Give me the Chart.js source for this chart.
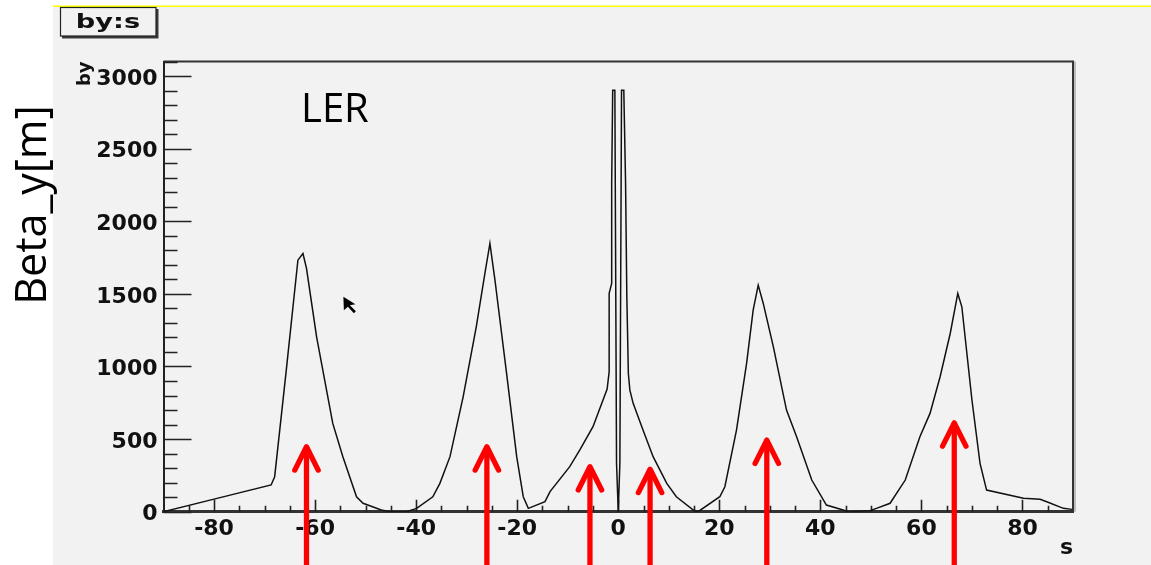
<!DOCTYPE html>
<html>
<head>
<meta charset="utf-8">
<title>by:s</title>
<script src="https://cdn.jsdelivr.net/npm/chart.js@4/dist/chart.umd.min.js"></script>
<style>
  html, body { margin: 0; padding: 0; background: #ffffff; overflow: hidden; }
  canvas { display: block; }
</style>
</head>
<body>
<canvas id="c" width="1151" height="565"></canvas>
<script>
// Vertical beta function by [m] against position s [m] around the interaction region
const sPos = [
  -90.0, -80.2, -68.7, -68.0, -65.7, -63.4, -62.4, -61.7, -59.7, -56.5, -54.5, -51.8, -50.5, -46.9, -45.2,
  -41.9, -39.9, -36.7, -35.3, -33.3, -30.7, -28.1, -26.4, -25.4, -24.4, -22.1, -20.1, -18.8, -17.8,
  -14.5, -13.5, -9.6, -7.6, -5.0, -2.2,
  -1.8, -1.8, -1.3, -1.3, -1.1, -0.67, -0.34, 0.0, 0.32, 0.65, 1.1, 1.45, 1.7, 2.0, 2.3,
  2.95, 4.9, 6.9, 9.6, 11.5, 14.8, 15.8,
  20.1, 21.1, 23.4, 25.4, 26.7, 27.7, 28.7, 30.7, 33.3, 35.3, 38.3, 41.2, 44.5, 45.5,
  49.8, 51.1, 53.8, 56.8, 59.7, 61.7, 63.7, 65.7, 67.2, 68.0, 70.0, 71.6, 72.9,
  80.2, 83.5, 84.8, 88.1, 89.8
];
const betaY = [
  0, 85, 184, 241, 975, 1732, 1778, 1675, 1204, 608, 379, 103, 58, 12, 0,
  0, 23, 103, 195, 379, 791, 1273, 1640, 1847, 1594, 952, 379, 103, 23,
  69, 138, 310, 425, 585, 845,
  963, 1503, 1572, 2260, 2902, 2902, 333, 0, 333, 2902, 2902, 2260, 1480, 952, 837,
  746, 562, 379, 195, 103, 12, 0,
  103, 172, 562, 1021, 1388, 1560, 1434, 1135, 700, 516, 218, 46, 12, 0,
  7, 23, 58, 218, 516, 677, 929, 1227, 1503, 1411, 769, 333, 149,
  92, 85, 69, 23, 16
];

// Axis ticks
const xTickValues = [-80, -60, -40, -20, 0, 20, 40, 60, 80];
const yTickValues = [0, 500, 1000, 1500, 2000, 2500, 3000];
const xMinorStep = 5;
const yMinorStep = 100;

// Marked positions along s (arrow foot below the axis, tip at the given by)
const arrowS   = [-61.7, -26.0, -5.6, 6.3, 29.4, 66.5];
const arrowTip = [447, 447, 310, 292, 493, 612];

// Labels
const histTitle = 'by:s';
const ringName = 'LER';
const sideLabel = 'Beta_y[m]';
const xTitle = 's';
const yTitle = 'by';
const pointerAt = [-54.4, 1480];

const decor = {
  id: 'decor',
  beforeDraw(chart) {
    const ctx = chart.ctx;
    ctx.save();
    ctx.fillStyle = '#ffffff';
    ctx.fillRect(0, 0, chart.width, chart.height);
    ctx.fillStyle = '#f2f2f2';
    ctx.fillRect(53, 6, chart.width - 53, chart.height - 6);
    ctx.strokeStyle = '#ffff00';
    ctx.lineWidth = 1.6;
    ctx.beginPath();
    ctx.moveTo(53, 6.3);
    ctx.lineTo(chart.width, 6.3);
    ctx.stroke();

    // title box with drop shadow
    ctx.fillStyle = '#3a3a3a';
    ctx.fillRect(62, 9, 96.5, 29.5);
    ctx.fillStyle = '#f2f2f2';
    ctx.fillRect(60, 7, 96, 29);
    ctx.strokeStyle = '#222';
    ctx.lineWidth = 1.2;
    ctx.strokeRect(60.5, 7.5, 95.5, 28.5);
    ctx.fillStyle = '#111';
    ctx.font = 'bold 20px "DejaVu Sans"';
    ctx.textAlign = 'center';
    ctx.textBaseline = 'alphabetic';
    ctx.translate(108, 28);
    ctx.scale(1.36, 1);
    ctx.fillText(histTitle, 0, 0);
    ctx.restore();
  },
  beforeDatasetsDraw(chart) {
    const ctx = chart.ctx;
    const a = chart.chartArea;
    const xs = chart.scales.x, ys = chart.scales.y;
    ctx.save();
    // frame top and right
    ctx.strokeStyle = '#999';
    ctx.lineWidth = 1.2;
    ctx.beginPath();
    ctx.moveTo(a.right + 2, a.top);
    ctx.lineTo(a.right + 2, a.bottom);
    ctx.stroke();
    ctx.strokeStyle = '#333';
    ctx.lineWidth = 2;
    ctx.beginPath();
    ctx.moveTo(a.left, a.top);
    ctx.lineTo(a.right, a.top);
    ctx.lineTo(a.right, a.bottom);
    ctx.stroke();

    // inward ticks
    ctx.strokeStyle = '#222';
    ctx.lineWidth = 1.6;
    ctx.beginPath();
    for (let v = ys.min; v <= ys.max; v += yMinorStep) {
      const y = Math.round(ys.getPixelForValue(v)) + 0.5;
      const len = yTickValues.includes(v) ? 28 : 14;
      ctx.moveTo(a.left, y);
      ctx.lineTo(a.left + len, y);
    }
    for (let v = xs.min + xMinorStep; v < xs.max; v += xMinorStep) {
      const x = Math.round(xs.getPixelForValue(v)) + 0.5;
      const len = xTickValues.includes(v) ? 12 : 6;
      ctx.moveTo(x, a.bottom);
      ctx.lineTo(x, a.bottom - len);
    }
    ctx.stroke();
    ctx.restore();
  },
  afterDraw(chart) {
    const ctx = chart.ctx;
    const xs = chart.scales.x, ys = chart.scales.y;
    ctx.save();

    // ring name inside the frame
    ctx.fillStyle = '#000';
    ctx.font = '40px "Open Sans"';
    ctx.textAlign = 'left';
    ctx.textBaseline = 'alphabetic';
    ctx.fillText(ringName, 301, 122);

    // side label
    ctx.save();
    ctx.translate(45.5, 205);
    ctx.rotate(-Math.PI / 2);
    ctx.font = '43px "Open Sans"';
    ctx.textAlign = 'center';
    ctx.fillText(sideLabel, 0, 0);
    ctx.restore();

    // mouse pointer
    const px = xs.getPixelForValue(pointerAt[0]);
    const py = ys.getPixelForValue(pointerAt[1]);
    ctx.save();
    ctx.translate(px, py);
    ctx.fillStyle = '#000';
    ctx.beginPath();
    ctx.moveTo(0, 0);
    ctx.lineTo(0.5, 13.5);
    ctx.lineTo(4.5, 10);
    ctx.lineTo(10.5, 16.5);
    ctx.lineTo(12.5, 14.5);
    ctx.lineTo(6.5, 8.5);
    ctx.lineTo(12, 7.5);
    ctx.closePath();
    ctx.fill();
    ctx.restore();

    // red arrows
    ctx.strokeStyle = '#ff0000';
    ctx.lineWidth = 5.3;
    ctx.lineCap = 'round';
    ctx.lineJoin = 'round';
    arrowS.forEach((s, i) => {
      const x = xs.getPixelForValue(s);
      const yt = ys.getPixelForValue(arrowTip[i]);
      ctx.beginPath();
      ctx.moveTo(x, chart.height + 4);
      ctx.lineTo(x, yt + 1);
      ctx.stroke();
      ctx.beginPath();
      ctx.moveTo(x - 11.7, yt + 23.3);
      ctx.lineTo(x, yt);
      ctx.lineTo(x + 11.7, yt + 23.3);
      ctx.stroke();
    });
    ctx.restore();
  }
};

const tickFont = { family: 'DejaVu Sans', weight: 'bold', size: 22 };
const plainNumber = (v) => String(v);

new Chart(document.getElementById('c'), {
  type: 'line',
  data: {
    datasets: [{
      label: yTitle,
      data: sPos.map((s, i) => ({ x: s, y: betaY[i] })),
      borderColor: '#111111',
      borderWidth: 1.5,
      pointRadius: 0,
      tension: 0,
      fill: false
    }]
  },
  options: {
    responsive: false,
    animation: false,
    events: [],
    layout: { padding: { left: 0, top: 61.5, right: 78, bottom: 0 } },
    plugins: { legend: { display: false }, tooltip: { enabled: false } },
    scales: {
      x: {
        type: 'linear',
        min: -90,
        max: 90,
        afterBuildTicks: (scale) => { scale.ticks = xTickValues.map(v => ({ value: v })); },
        afterFit: (scale) => { scale.height = 53.3; },
        grid: { display: false, drawTicks: false },
        border: { display: true, color: '#333', width: 3 },
        ticks: { font: tickFont, color: '#111', padding: 4, maxRotation: 0, autoSkip: false, callback: plainNumber },
        title: {
          display: true, text: xTitle, align: 'end',
          font: tickFont, color: '#111', padding: { top: 0, bottom: 3.1 }
        }
      },
      y: {
        type: 'linear',
        min: 0,
        max: 3100,
        afterBuildTicks: (scale) => { scale.ticks = yTickValues.map(v => ({ value: v })); },
        afterFit: (scale) => { scale.width = 163.5; },
        grid: { display: false, drawTicks: false },
        border: { display: true, color: '#222', width: 2 },
        ticks: { font: tickFont, color: '#111', padding: 6, labelOffset: 3, autoSkip: false, callback: plainNumber },
        title: {
          display: true, text: yTitle, align: 'end',
          font: { family: 'DejaVu Sans', weight: 'bold', size: 18 }, color: '#111',
          padding: { top: 74.5, bottom: 0 }
        }
      }
    }
  },
  plugins: [decor]
});
</script>
</body>
</html>
